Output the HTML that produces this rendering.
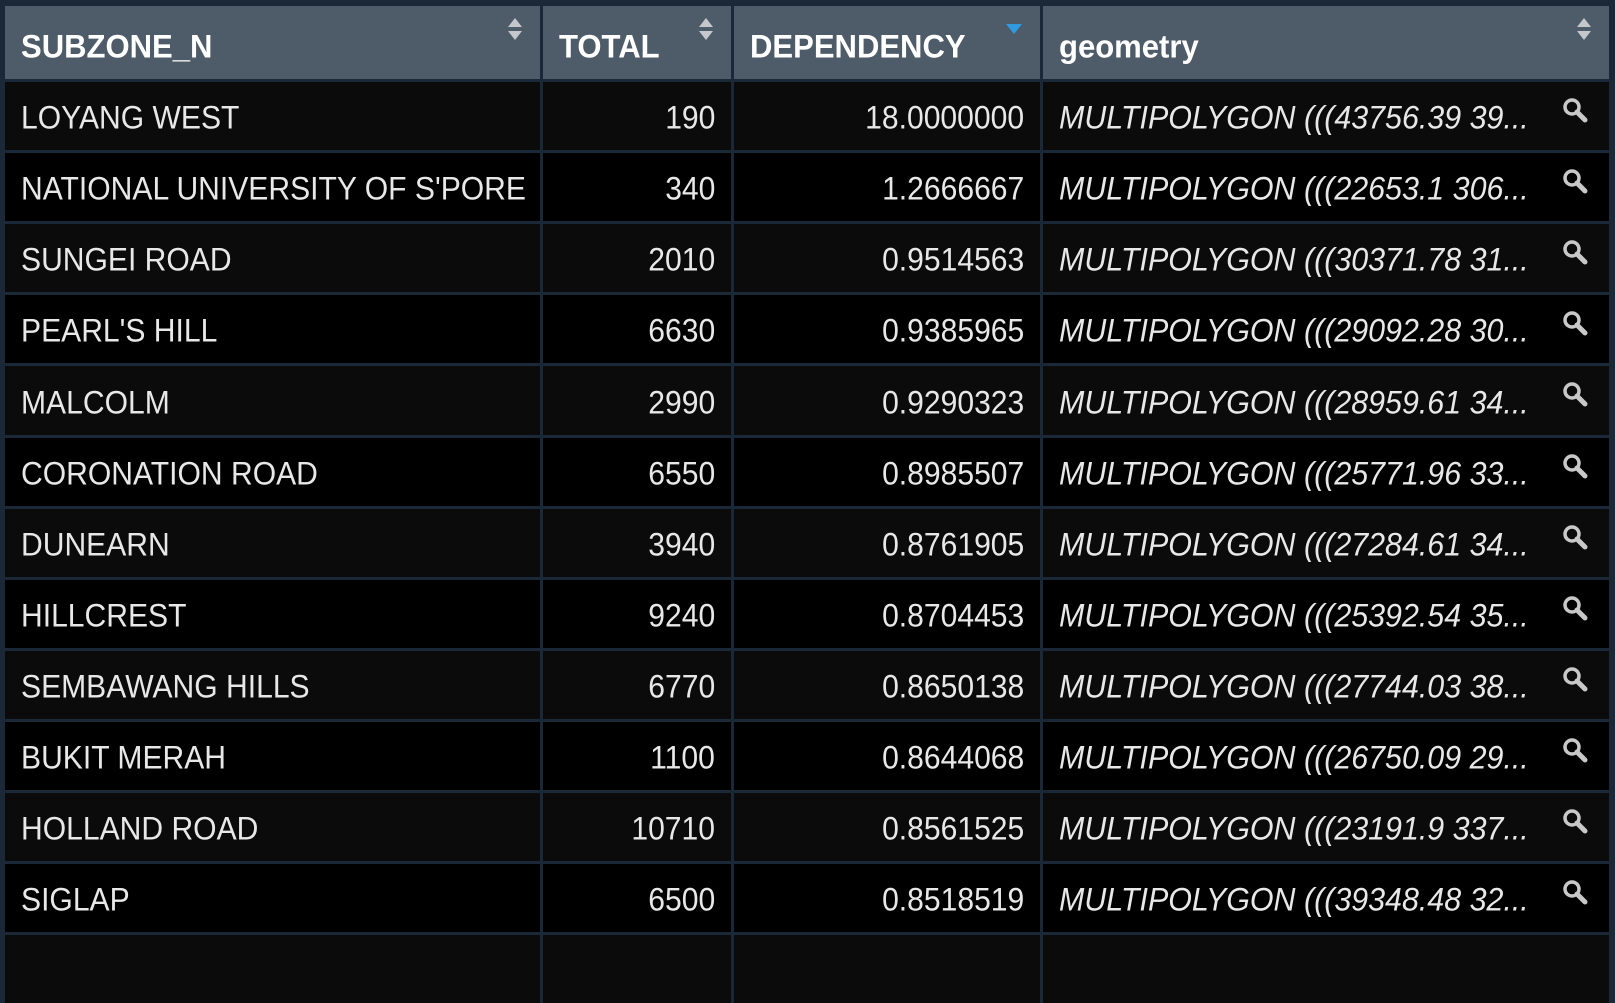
<!DOCTYPE html>
<html><head><meta charset="utf-8">
<style>
html,body{margin:0;padding:0;background:#1b2838;}
body{width:1615px;height:942px;overflow:hidden;position:relative;font-family:"Liberation Sans","DejaVu Sans",sans-serif;}
.cell{position:absolute;box-sizing:border-box;overflow:hidden;white-space:nowrap;color:#e8e8e8;}
.hdr{background:#4e5c6a;font-weight:bold;font-size:31px;color:#fff;}
.t{display:inline-block;position:absolute;top:53%;}
.sort{position:absolute;width:0;height:0;border-left:8px solid transparent;border-right:8px solid transparent;}
</style></head>
<body>
<div id="tbl"></div>
<script>
const names=["LOYANG WEST","NATIONAL UNIVERSITY OF S'PORE","SUNGEI ROAD","PEARL'S HILL","MALCOLM","CORONATION ROAD","DUNEARN","HILLCREST","SEMBAWANG HILLS","BUKIT MERAH","HOLLAND ROAD","SIGLAP"];
const totals=[190,340,2010,6630,2990,6550,3940,9240,6770,1100,10710,6500];
const deps=["18.0000000","1.2666667","0.9514563","0.9385965","0.9290323","0.8985507","0.8761905","0.8704453","0.8650138","0.8644068","0.8561525","0.8518519"];
const geoms=["MULTIPOLYGON (((43756.39 39...","MULTIPOLYGON (((22653.1 306...","MULTIPOLYGON (((30371.78 31...","MULTIPOLYGON (((29092.28 30...","MULTIPOLYGON (((28959.61 34...","MULTIPOLYGON (((25771.96 33...","MULTIPOLYGON (((27284.61 34...","MULTIPOLYGON (((25392.54 35...","MULTIPOLYGON (((27744.03 38...","MULTIPOLYGON (((26750.09 29...","MULTIPOLYGON (((23191.9 337...","MULTIPOLYGON (((39348.48 32..."];
const headers=["SUBZONE_N","TOTAL","DEPENDENCY","geometry"];
const colX=[5,543,734,1043,1612];
const tbl=document.getElementById('tbl');
const hTop=6,hH=73,rowTop=82,rowH=71.1,gap=3;
function mk(x,y,w,h,cls){const d=document.createElement('div');d.className='cell '+cls;d.style.left=x+'px';d.style.top=y+'px';d.style.width=w+'px';d.style.height=h+'px';tbl.appendChild(d);return d;}
function txt(cell,s,align,italic,size,sx){const sp=document.createElement('span');sp.className='t';sp.textContent=s;sp.style.fontSize=size+'px';if(italic)sp.style.fontStyle='italic';
 if(align==='r'){sp.style.right='16px';sp.style.transform='translateY(-50%) scaleX('+sx+')';sp.style.transformOrigin='right center';}
 else{sp.style.left='16px';sp.style.transform='translateY(-50%) scaleX('+sx+')';sp.style.transformOrigin='left center';}
 cell.appendChild(sp);return sp;}
headers.forEach((h,i)=>{
 const c=mk(colX[i],hTop,colX[i+1]-colX[i]-gap,hH,'hdr');
 
 
 const s=txt(c,h,'l',false,32,0.97);s.style.top='56%';
 const w=colX[i+1]-colX[i]-gap;
 if(i===2){const a=document.createElement('div');a.className='sort';a.style.left=(w-34)+'px';a.style.top='18px';a.style.borderTop='10px solid #2f9be0';
  
  
  c.appendChild(a);}
 else{const u=document.createElement('div');u.className='sort';u.style.left=(w-32)+'px';u.style.top='12px';u.style.borderLeftWidth='7px';u.style.borderRightWidth='7px';u.style.borderBottom='9px solid #c4c8cc';
  
  
  const d=document.createElement('div');d.className='sort';d.style.left=(w-32)+'px';d.style.top='25px';d.style.borderLeftWidth='7px';d.style.borderRightWidth='7px';d.style.borderTop='9px solid #c4c8cc';
  
  
  c.appendChild(u);c.appendChild(d);}
});
for(let r=0;r<13;r++){
 const y=Math.round(rowTop+r*rowH);const h=Math.round(rowTop+(r+1)*rowH)-y-gap;
 const bg=r%2===0?'#0b0b0b':'#000';
 for(let i=0;i<4;i++){
  const c=mk(colX[i],y,colX[i+1]-colX[i]-gap,h,'');c.style.background=bg;
  if(r<names.length){
   const vals=[names[r],String(totals[r]),deps[r],geoms[r]];
   
   
   const s=txt(c,vals[i],(i===1||i===2)?'r':'l',i===3,32,i===3?0.95:0.94);s.style.fontWeight='normal';
   if(i===3){const m=document.createElementNS('http://www.w3.org/2000/svg','svg');m.setAttribute('width','28');m.setAttribute('height','28');m.setAttribute('viewBox','0 0 28 28');
    m.style.position='absolute';m.style.left=(colX[4]-colX[3]-gap-48)+'px';m.style.top='14px';
    m.innerHTML='<circle cx="11" cy="11" r="7" fill="none" stroke="#c8c8c8" stroke-width="3.5"/><line x1="16" y1="16" x2="24" y2="24" stroke="#c8c8c8" stroke-width="5" stroke-linecap="round"/>';
    
    
    c.appendChild(m);}
  }
 }
}
</script>
</body></html>
